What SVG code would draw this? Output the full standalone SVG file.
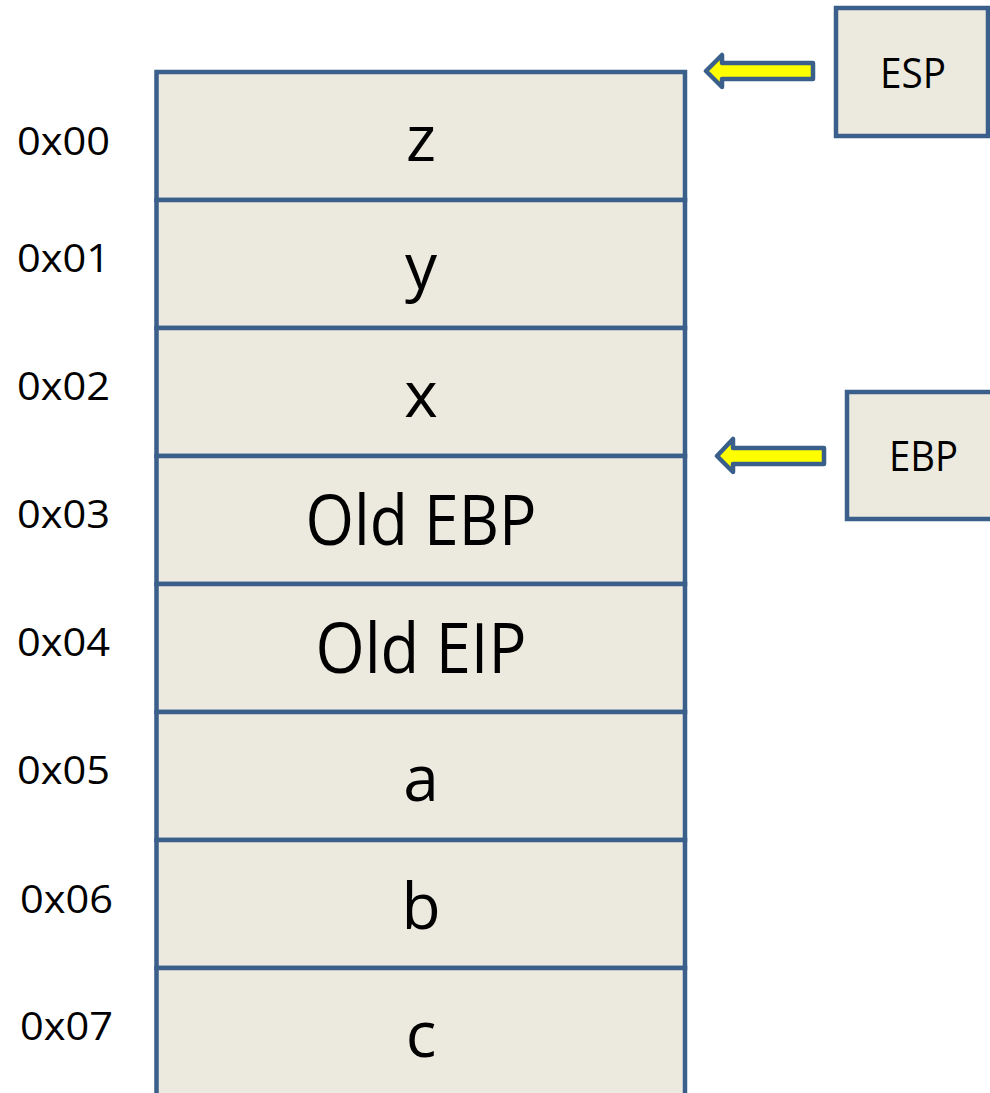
<svg xmlns="http://www.w3.org/2000/svg" width="990" height="1093" viewBox="0 0 990 1093">
<style>
.cell{fill:#ECEADF;stroke:#3A5F8B;stroke-width:4.5}
.reg{fill:#ECEADF;stroke:#3A5F8B;stroke-width:4.5}
.arrow{fill:#FFFF00;stroke:#3A5F8B;stroke-width:4.5;stroke-linejoin:round}
.big{font-family:"Open Sans","Liberation Sans",sans-serif;font-size:64px;fill:#000;text-anchor:middle}
.big2{font-family:"Open Sans","Liberation Sans",sans-serif;font-size:70px;fill:#000;text-anchor:middle}
.addr{font-family:"Open Sans","Liberation Sans",sans-serif;font-size:39px;fill:#000}
.rt{font-family:"Open Sans","Liberation Sans",sans-serif;font-size:42px;fill:#000;text-anchor:middle}
</style>
<rect width="990" height="1093" fill="#ffffff"/>
<g id="cell-z"><rect class="cell" x="156.5" y="72" width="528.5" height="128"/><text class="big" x="421" y="161">z</text></g>
<g id="cell-y"><rect class="cell" x="156.5" y="200" width="528.5" height="128"/><text class="big" x="421" y="289">y</text></g>
<g id="cell-x"><rect class="cell" x="156.5" y="328" width="528.5" height="128"/><text class="big" x="421" y="417">x</text></g>
<g id="cell-oldebp"><rect class="cell" x="156.5" y="456" width="528.5" height="128"/><text class="big2" x="421" y="545" textLength="231" lengthAdjust="spacingAndGlyphs">Old EBP</text></g>
<g id="cell-oldeip"><rect class="cell" x="156.5" y="584" width="528.5" height="128"/><text class="big2" x="421" y="673" textLength="211" lengthAdjust="spacingAndGlyphs">Old EIP</text></g>
<g id="cell-a"><rect class="cell" x="156.5" y="712" width="528.5" height="128"/><text class="big" x="421" y="801">a</text></g>
<g id="cell-b"><rect class="cell" x="156.5" y="840" width="528.5" height="128"/><text class="big" x="421" y="929">b</text></g>
<g id="cell-c"><rect class="cell" x="156.5" y="968" width="528.5" height="140"/><text class="big" x="421" y="1057">c</text></g>
<g id="addresses">
<text class="addr" x="17" y="155" textLength="93" lengthAdjust="spacingAndGlyphs">0x00</text>
<text class="addr" x="17" y="272" textLength="93" lengthAdjust="spacingAndGlyphs">0x01</text>
<text class="addr" x="17" y="400" textLength="93" lengthAdjust="spacingAndGlyphs">0x02</text>
<text class="addr" x="17" y="528" textLength="93" lengthAdjust="spacingAndGlyphs">0x03</text>
<text class="addr" x="17" y="656" textLength="93" lengthAdjust="spacingAndGlyphs">0x04</text>
<text class="addr" x="17" y="784" textLength="93" lengthAdjust="spacingAndGlyphs">0x05</text>
<text class="addr" x="20" y="913" textLength="93" lengthAdjust="spacingAndGlyphs">0x06</text>
<text class="addr" x="20" y="1040" textLength="93" lengthAdjust="spacingAndGlyphs">0x07</text>
</g>
<g id="esp"><rect class="reg" x="836" y="8" width="152" height="128"/><text class="rt" x="913" y="88" textLength="66" lengthAdjust="spacingAndGlyphs">ESP</text></g>
<g id="ebp"><rect class="reg" x="847" y="392" width="150" height="127"/><text class="rt" x="923.5" y="471" textLength="69" lengthAdjust="spacingAndGlyphs">EBP</text></g>
<g id="connectors">
<path class="arrow" d="M706,71 L722,55 L722,63 L813,63 L813,79 L722,79 L722,87 Z"/>
<path class="arrow" d="M717,456 L733,439 L733,448 L824,448 L824,464 L733,464 L733,472 Z"/>
</g>
</svg>
